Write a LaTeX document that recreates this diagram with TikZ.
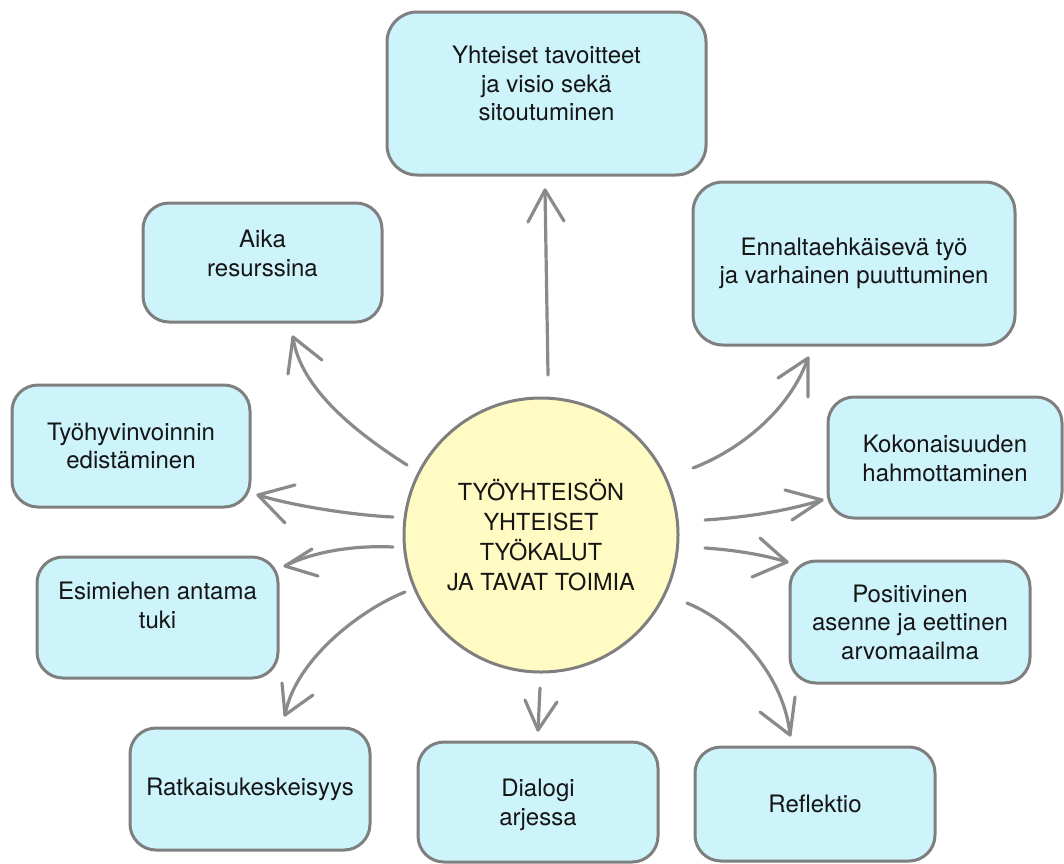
\documentclass[tikz,border=0pt]{standalone}
\usepackage{fontspec}
\setmainfont{TeX Gyre Heros}
\usetikzlibrary{calc}

\definecolor{boxfill}{HTML}{CDF3FB}
\definecolor{boxline}{HTML}{7F7F7F}
\definecolor{hubfill}{HTML}{FFFBC2}
\definecolor{linkgray}{HTML}{8A8A8A}
\definecolor{ink}{HTML}{151515}

\tikzset{
  topic/.style={draw=boxline, line width=3pt, fill=boxfill, rounded corners=26pt,
    rectangle, inner sep=0pt},
  hub/.style={draw=boxline, line width=3pt, fill=hubfill, circle, inner sep=0pt,
    minimum size=274pt},
  txt/.style={text=ink, align=center, inner sep=0pt,
    font=\fontsize{24}{28.5}\selectfont},
  hubtxt/.style={txt, font=\fontsize{23.5}{30}\selectfont},
  link/.style={draw=linkgray, line width=3.2pt, line cap=round},
  barb/.style={draw=linkgray, line width=3.2pt, line cap=round, line join=round},
}
% hand-drawn style chevron at a tip coordinate
\newcommand{\barbs}[3]{\draw[barb] ([shift={(#2)}]#1) -- (#1) -- ([shift={(#3)}]#1);}

\begin{document}
\begin{tikzpicture}[x=1pt,y=-1pt]
\useasboundingbox (0,0) rectangle (1064,863);

% centre
\node[hub] (hub) at (541,535) {};
\node[hubtxt] (hubt) at (hub.center) {TYÖYHTEISÖN\\YHTEISET\\TYÖKALUT\\JA TAVAT TOIMIA};

% topic boxes
\node[topic, minimum width=319pt, minimum height=163pt, rounded corners=30pt] (bU) at (546.5,93.5) {};
\node[txt] (tU) at ([yshift=10pt]bU.center) {Yhteiset tavoitteet\\ja visio sekä\\sitoutuminen};

\node[topic, minimum width=239pt, minimum height=119pt] (bA) at (262.5,262.5) {};
\node[txt] (tA) at ([yshift=9pt]bA.center) {Aika\\resurssina};

\node[topic, minimum width=238pt, minimum height=122pt] (bW) at (131,446) {};
\node[txt] (tW) at (bW.center) {Työhyvinvoinnin\\edistäminen};

\node[topic, minimum width=241pt, minimum height=121pt] (bE) at (157.5,617.5) {};
\node[txt] (tE) at ([yshift=12pt]bE.center) {Esimiehen antama\\tuki};

\node[topic, minimum width=240pt, minimum height=122pt] (bR) at (250,789) {};
\node[txt] (tR) at (bR.center) {Ratkaisukeskeisyys};

\node[topic, minimum width=240pt, minimum height=120pt] (bD) at (538,802) {};
\node[txt] (tD) at ([yshift=-3pt]bD.center) {Dialogi\\arjessa};

\node[topic, minimum width=240pt, minimum height=114pt] (bF) at (815,804) {};
\node[txt] (tF) at (bF.center) {Reflektio};

\node[topic, minimum width=240pt, minimum height=122pt] (bP) at (910,622) {};
\node[txt] (tP) at (bP.center) {Positivinen\\asenne ja eettinen\\arvomaailma};

\node[topic, minimum width=234pt, minimum height=121pt] (bK) at (945,457.5) {};
\node[txt] (tK) at ([yshift=-1pt]bK.center) {Kokonaisuuden\\hahmottaminen};

\node[topic, minimum width=322pt, minimum height=163pt, rounded corners=30pt] (bN) at (854,263.5) {};
\node[txt] (tN) at (bN.center) {Ennaltaehkäisevä työ\\ja varhainen puuttuminen};

% connector ends
\coordinate (sU) at (548,375);  \coordinate (hU) at (545,190);
\coordinate (sA) at (407,465);  \coordinate (hA) at (293,337);
\coordinate (sW) at (393,517);  \coordinate (hW) at (258,495);
\coordinate (sE) at (393,547);  \coordinate (hE) at (285,566);
\coordinate (sR) at (405,592);  \coordinate (hR) at (285,715);
\coordinate (sD) at (540,688);  \coordinate (hD) at (538,730);
\coordinate (sN) at (693,468);  \coordinate (hN) at (808,358);
\coordinate (sK) at (705,520);  \coordinate (hK) at (822,500);
\coordinate (sP) at (705,548);  \coordinate (hP) at (787,562);
\coordinate (sF) at (687,603);  \coordinate (hF) at (790,735);

% connectors
\draw[link] (sU) -- (hU);
\draw[link] (sA) .. controls (360,435) and (300,390) .. (hA);
\draw[link] (sW) .. controls (350,515) and (290,505) .. (hW);
\draw[link] (sE) .. controls (350,545) and (310,553) .. (hE);
\draw[link] (sR) .. controls (360,610) and (295,660) .. (hR);
\draw[link] (sD) -- (hD);
\draw[link] (sN) .. controls (740,450) and (790,410) .. (hN);
\draw[link] (sK) .. controls (750,517) and (790,510) .. (hK);
\draw[link] (sP) .. controls (735,550) and (765,555) .. (hP);
\draw[link] (sF) .. controls (740,625) and (785,680) .. (hF);

% arrow heads
\barbs{hU}{-17,32}{19,31}
\barbs{hA}{-5,37}{29,23}
\barbs{hW}{37,-10}{27,28}
\barbs{hE}{27,-17}{33,10}
\barbs{hR}{-3,-32}{28,-20}
\barbs{hD}{-13,-30}{19,-28}
\barbs{hN}{-30,20}{0,39}
\barbs{hK}{-37,-10}{-30,20}
\barbs{hP}{-27,-24}{-35,15}
\barbs{hF}{5,-38}{-30,-23}
\end{tikzpicture}
\end{document}
